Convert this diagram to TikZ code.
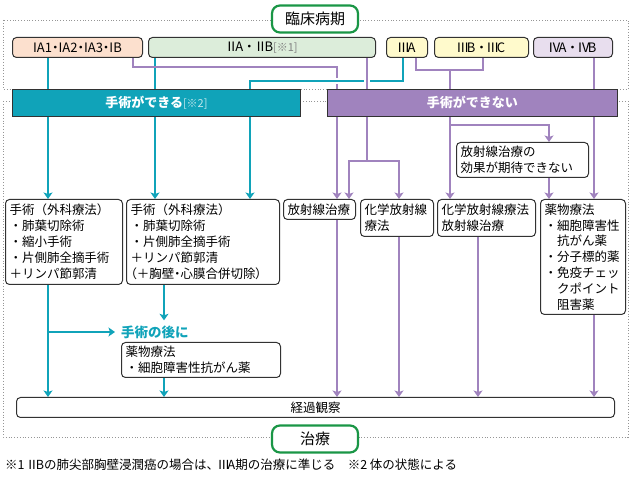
\documentclass[tikz,border=0pt]{standalone}
\usepackage{fontspec}
\setmainfont{Noto Sans CJK JP}
\usetikzlibrary{arrows.meta,backgrounds}
\definecolor{tealc}{RGB}{16,163,185}
\definecolor{purc}{RGB}{160,131,190}
\definecolor{greenc}{RGB}{26,150,70}
\definecolor{peach}{RGB}{252,224,206}
\definecolor{lgreen}{RGB}{220,237,218}
\definecolor{lyellow}{RGB}{255,250,204}
\definecolor{lpurple}{RGB}{232,222,238}
\definecolor{boxline}{RGB}{50,50,50}
\definecolor{framec}{RGB}{150,150,150}
\newcommand{\palt}{\addfontfeature{RawFeature=+palt}}
\newcommand{\rn}[1]{\kern-1.5pt#1\kern-2.5pt}
\begin{document}
\begin{tikzpicture}[x=1pt,y=-1pt,
        box/.style={draw=boxline,line width=1pt,rounded corners=4pt,fill=white,anchor=north west,
            inner xsep=4pt,inner ysep=2pt,align=left,font=\fontsize{12.5}{16}\selectfont},
        stage/.style={box,align=center,inner sep=0pt,minimum height=20pt,font=\fontsize{13}{15}\selectfont\palt},
        bar/.style={draw=boxline,line width=0.8pt,anchor=north west,inner sep=0pt,minimum height=27pt,
            text=white,font=\fontsize{13}{15}\selectfont\bfseries},
        headbox/.style={draw=greenc,line width=2.2pt,rounded corners=8pt,fill=white,
            minimum width=86pt,minimum height=27pt,font=\fontsize{15}{18}\selectfont},
        dotframe/.style={draw=framec,line width=0.8pt,dotted},
        tl/.style={draw=tealc,line width=2.8pt},
        pl/.style={draw=purc,line width=2.8pt},
        arrowtip/.style={-{Stealth[length=6.5pt,width=9pt,inset=1.5pt]}},
        halo/.style={preaction={draw=white,line width=6pt}}]
    \useasboundingbox (0,0) rectangle (630,478);

    % stages
    \node[headbox] (stagehead) at (315,19) {臨床病期};
    \node[stage,fill=peach,minimum width=130pt] (ia) at (12,37) {IA1・IA2・IA3・IB};
    \node[stage,fill=lgreen,minimum width=227pt] (iia) at (148,37)
        {\rn{Ⅱ}A ・ \rn{Ⅱ}B{\fontsize{11}{13}\selectfont\color{gray}[※1]}};
    \node[stage,fill=lyellow,minimum width=41pt] (iiia) at (386,37) {\rn{Ⅲ}A};
    \node[stage,fill=lyellow,minimum width=94pt] (iiib) at (434,37) {\rn{Ⅲ}B ・ \rn{Ⅲ}C};
    \node[stage,fill=lpurple,minimum width=79pt] (iva) at (533,37) {\rn{Ⅳ}A ・ \rn{Ⅳ}B};

    % bars
    \node[bar,fill=tealc,minimum width=288pt] (canbar) at (12,89)
        {手術ができる{\mdseries\fontsize{11}{13}\selectfont\color{tealc!25!white}[※2]}};
    \node[bar,fill=purc,minimum width=290pt] (cantbar) at (327,89) {手術ができない};

    % treatments
    \node[box,text width=109pt,minimum height=85pt] (surg1) at (5,199)
        {手術（外科療法）\\・肺葉切除術\\・縮小手術\\・片側肺全摘手術\\＋リンパ節郭清};
    \node[box,text width=145pt,minimum height=85pt] (surg2) at (126,199)
        {手術（外科療法）\\・肺葉切除術\\・片側肺全摘手術\\＋リンパ節郭清\\{\palt（＋胸壁・心膜合併切除）}};
    \node[box,text width=64pt,minimum height=20pt,inner ysep=0pt] (rad) at (283,199) {放射線治療};
    \node[box,text width=65pt,minimum height=37pt] (chemrad) at (360,199) {化学放射線\\療法};
    \node[box,text width=90pt,minimum height=37pt] (chemrad2) at (437,199) {化学放射線療法\\放射線治療};
    \node[box,text width=124pt,minimum height=35pt] (noeff) at (456,142) {放射線治療の\\効果が期待できない};
    \node[box,text width=77pt,minimum height=115pt,font=\fontsize{12.5}{15.8}\selectfont] (drug) at (540,199)
        {薬物療法\\・細胞障害性\\　抗がん薬\\・分子標的薬\\・免疫チェッ\\　クポイント\\　阻害薬};
    \node[anchor=west,inner xsep=6pt,inner ysep=5pt,text=tealc,font=\fontsize{13.5}{16}\selectfont\bfseries]
        (after) at (115,332) {手術の後に};
    \node[box,text width=151pt,minimum height=35pt] (drug2) at (121,342) {薬物療法\\・細胞障害性抗がん薬};
    \node[box,align=center,minimum width=598pt,minimum height=20pt,inner sep=0pt] (follow) at (16,397) {経過観察};
    \node[headbox] (treathead) at (315,439) {治療};

    \node[anchor=west,inner sep=0pt,font=\fontsize{12.5}{15}\selectfont] (note) at (5,465)
        {※1 \rn{Ⅱ}Bの肺尖部胸壁浸潤癌の場合は、\rn{Ⅲ}A期の治療に準じる　※2 体の状態による};

    \begin{pgfonlayer}{background}
        \draw[dotframe] (3,20) rectangle (628,89);
        \draw[dotframe] (3,101) rectangle (628,437);

        \draw[tl,arrowtip] (ia.south -| 48,0) -- (surg1.north -| 48,0);
        \draw[tl,arrowtip] (iia.south -| 155,0) -- (surg2.north -| 155,0);
        \draw[pl,arrowtip] (ia.south -| 133,0) -- (133,67) -- (337,67) -- (rad.north -| 337,0);
        \draw[tl,halo,arrowtip] (iiia.south -| 403,0) -- (403,81) -- (250,81) -- (surg2.north -| 250,0);
        \draw[pl,halo] (iia.south -| 367,0) -- (367,161);
        \draw[pl,arrowtip] (367,161) -| (rad.north -| 349,0);
        \draw[pl,arrowtip] (367,161) -| (chemrad.north -| 399,0);
        \draw[pl] (iiia.south -| 416,0) -- (416,70) -- (483,70) -- (iiib.south -| 483,0);
        \draw[pl,arrowtip] (450,70) -- (chemrad2.north -| 450,0);
        \draw[pl,arrowtip] (450,125) -| (noeff.north -| 549,0);
        \draw[pl,arrowtip] (noeff.south -| 549,0) -- (drug.north -| 549,0);
        \draw[pl,arrowtip] (iva.south -| 594,0) -- (drug.north -| 594,0);

        \draw[tl,arrowtip] (surg1.south -| 48,0) -- (follow.north -| 48,0);
        \draw[tl,arrowtip] (48,332) -- (after.west);
        \draw[tl,arrowtip] (surg2.south -| 164,0) -- (after.north -| 164,0);
        \draw[tl,arrowtip] (drug2.south -| 164,0) -- (follow.north -| 164,0);
        \draw[pl,arrowtip] (rad.south -| 337,0) -- (follow.north -| 337,0);
        \draw[pl,arrowtip] (chemrad.south -| 399,0) -- (follow.north -| 399,0);
        \draw[pl,arrowtip] (chemrad2.south -| 478,0) -- (follow.north -| 478,0);
        \draw[pl,arrowtip] (drug.south -| 594,0) -- (follow.north -| 594,0);
    \end{pgfonlayer}
\end{tikzpicture}
\end{document}
